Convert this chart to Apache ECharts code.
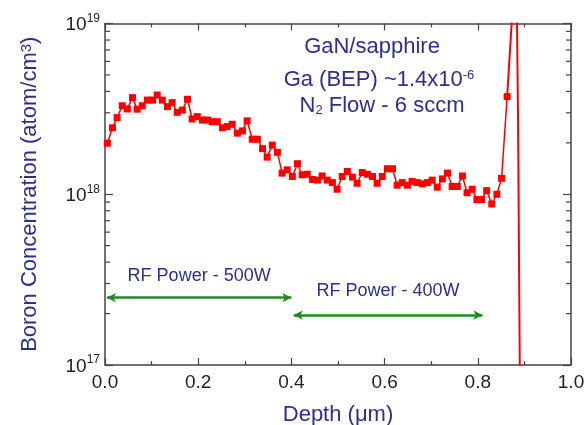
<!DOCTYPE html>
<html>
<head>
<meta charset="utf-8">
<title>Boron concentration vs depth</title>
<script src="https://cdn.jsdelivr.net/npm/echarts@6/dist/echarts.min.js"></script>
<style>
  html, body { margin: 0; padding: 0; background: #fff; }
  #chart { width: 585px; height: 425px; }
</style>
</head>
<body>
<div id="chart"></div>
<script>
// SIMS profile, depth in um
const depth = [0.005, 0.016, 0.026, 0.037, 0.048, 0.059, 0.069, 0.080, 0.091, 0.102,
  0.112, 0.123, 0.134, 0.144, 0.155, 0.166, 0.177, 0.187, 0.198, 0.209,
  0.220, 0.230, 0.241, 0.252, 0.262, 0.273, 0.284, 0.295, 0.305, 0.316,
  0.327, 0.338, 0.348, 0.359, 0.370, 0.380, 0.391, 0.402, 0.413, 0.423,
  0.434, 0.445, 0.456, 0.466, 0.477, 0.488, 0.498, 0.509, 0.520, 0.531,
  0.541, 0.552, 0.563, 0.574, 0.584, 0.595, 0.606, 0.617, 0.627, 0.638,
  0.649, 0.659, 0.670, 0.681, 0.692, 0.702, 0.713, 0.724, 0.735, 0.745,
  0.756, 0.767, 0.777, 0.788, 0.798, 0.808, 0.819, 0.830, 0.841, 0.851, 0.863]
// boron concentration, atom/cm3
const boron = [1.99e18, 2.45e18, 2.81e18, 3.30e18, 3.16e18, 3.68e18, 3.15e18, 3.30e18, 3.56e18, 3.56e18,
  3.81e18, 3.56e18, 3.26e18, 3.44e18, 3.02e18, 3.11e18, 3.60e18, 2.76e18, 2.85e18, 2.72e18,
  2.72e18, 2.66e18, 2.66e18, 2.45e18, 2.49e18, 2.57e18, 2.28e18, 2.35e18, 2.69e18, 2.10e18,
  2.10e18, 1.85e18, 1.65e18, 1.94e18, 1.76e18, 1.33e18, 1.39e18, 1.27e18, 1.51e18, 1.30e18,
  1.31e18, 1.22e18, 1.21e18, 1.28e18, 1.21e18, 1.17e18, 1.07e18, 1.27e18, 1.36e18, 1.26e18,
  1.16e18, 1.34e18, 1.31e18, 1.27e18, 1.16e18, 1.27e18, 1.41e18, 1.41e18, 1.13e18, 1.17e18,
  1.13e18, 1.19e18, 1.17e18, 1.15e18, 1.17e18, 1.21e18, 1.10e18, 1.23e18, 1.33e18, 1.11e18,
  1.11e18, 1.28e18, 1.02e18, 1.07e18, 0.93e18, 0.93e18, 1.05e18, 0.877e18, 1.00e18, 1.24e18, 3.73e18]
// interface spike (no markers, runs off the plot)
const spikeDepth = [0.863, 0.8745, 0.883, 0.8863, 0.8906]
const spikeBoron = [3.73e18, 1.22e19, 2.0e19, 2.83e18, 6.2e16]

// RF power bands
const rfLabels = ['RF Power - 500W', 'RF Power - 400W']
const rfStart = [0.004, 0.405]
const rfEnd = [0.400, 0.810]
const rfLevel = [2.48e17, 1.96e17]
const rfLabelGap = [13, 15]

// log minor ticks
const minorTicks = [2e17, 3e17, 4e17, 5e17, 6e17, 7e17, 8e17, 9e17,
  2e18, 3e18, 4e18, 5e18, 6e18, 7e18, 8e18, 9e18]

const font = '"Liberation Sans", Arial, sans-serif'
const navy = '#2b2f8e'
const axisColor = '#444'
const textColor = '#222'

const chart = echarts.init(document.getElementById('chart'))

const frameLine = { show: true, onZero: false, lineStyle: { color: axisColor, width: 1.5 } }
const xTick = { show: true, inside: true, length: 7, lineStyle: { color: axisColor, width: 1.2 } }
const xMinor = { show: true, splitNumber: 2, length: 4, lineStyle: { color: axisColor, width: 1.2 } }
const yTick = { show: true, inside: true, length: 8, lineStyle: { color: axisColor, width: 1.2 } }

const option = {
  animation: false,
  backgroundColor: '#fff',
  // fixed plot box, no v6 auto shrink
  grid: { left: 105, right: 14, top: 23.5, bottom: 60, show: false, containLabel: false, outerBoundsMode: 'none' },
  xAxis: [
    {
      type: 'value', min: 0, max: 1, interval: 0.2, position: 'bottom',
      axisLine: frameLine, axisTick: xTick, minorTick: xMinor, splitLine: { show: false },
      axisLabel: { formatter: v => v.toFixed(1), fontSize: 19, fontFamily: font, color: textColor, margin: 8 },
      name: 'Depth (\u03bcm)', nameLocation: 'middle', nameGap: 39,
      nameTextStyle: { fontSize: 22, fontFamily: font, color: navy }
    },
    {
      type: 'value', min: 0, max: 1, interval: 0.2, position: 'top',
      axisLine: frameLine, axisTick: xTick, minorTick: xMinor, splitLine: { show: false },
      axisLabel: { show: false }
    }
  ],
  yAxis: [
    {
      type: 'log', logBase: 10, min: 1e17, max: 1e19, position: 'left',
      axisLine: frameLine, axisTick: yTick, splitLine: { show: false },
      axisLabel: {
        formatter: v => '{b|10}{sup|' + Math.round(Math.log10(v)) + '}',
        margin: 5,
        rich: {
          b: { fontSize: 19, fontFamily: font, color: textColor, lineHeight: 22, verticalAlign: 'bottom' },
          sup: { fontSize: 12, fontFamily: font, color: textColor, lineHeight: 12, verticalAlign: 'top' }
        }
      },
      name: 'Boron Concentration (atom/cm{sup|3})', nameLocation: 'middle', nameRotate: 90, nameGap: 64,
      nameTextStyle: {
        fontSize: 22, fontFamily: font, color: navy,
        rich: {
          sup: { fontSize: 15, fontFamily: font, color: navy, verticalAlign: 'top', lineHeight: 14 }
        }
      }
    },
    {
      type: 'log', logBase: 10, min: 1e17, max: 1e19, position: 'right',
      axisLine: frameLine, axisTick: yTick, splitLine: { show: false },
      axisLabel: { show: false }
    }
  ],
  graphic: [
    {
      type: 'text', x: 372, y: 47,
      style: { text: 'GaN/sapphire', font: '22px ' + font, fill: navy, align: 'center', verticalAlign: 'middle' }
    },
    {
      type: 'text', x: 379, y: 80,
      style: {
        text: 'Ga (BEP) ~1.4x10{sup|-6}', font: '22px ' + font, fill: navy, align: 'center', verticalAlign: 'middle',
        rich: { sup: { font: '13px ' + font, fill: navy, verticalAlign: 'top', lineHeight: 13 } }
      }
    },
    {
      type: 'text', x: 382, y: 106,
      style: {
        text: 'N{sub|2} Flow - 6 sccm', font: '22px ' + font, fill: navy, align: 'center', verticalAlign: 'middle',
        rich: { sub: { font: '13px ' + font, fill: navy, verticalAlign: 'bottom', lineHeight: 13 } }
      }
    }
  ],
  series: [
    {
      type: 'line',
      data: depth.map((d, i) => [d, boron[i]]),
      symbol: 'rect', symbolSize: 7,
      itemStyle: { color: '#ff0000' },
      lineStyle: { color: '#ff0000', width: 1.5 },
      z: 3,
      markLine: {
        silent: true,
        symbol: ['arrow', 'arrow'],
        symbolSize: [7, 9],
        lineStyle: { color: '#1e8c1e', width: 2.5, type: 'solid' },
        label: {
          position: 'insideMiddleTop', fontSize: 18, fontFamily: font, color: navy
        },
        data: rfLabels.map((t, i) => [
          { coord: [rfStart[i], rfLevel[i]], label: { formatter: t, distance: rfLabelGap[i] } },
          { coord: [rfEnd[i], rfLevel[i]] }
        ])
      }
    },
    {
      type: 'line',
      data: spikeDepth.map((d, i) => [d, spikeBoron[i]]),
      showSymbol: false, symbol: 'none',
      lineStyle: { color: '#ff0000', width: 2 },
      z: 2
    },
    {
      // log minor ticks on left and right frame
      type: 'custom',
      silent: true,
      data: minorTicks.map(v => [0, v]),
      renderItem(params, api) {
        const v = api.value(1)
        const l = api.coord([0, v])
        const r = api.coord([1, v])
        return {
          type: 'group',
          children: [
            { type: 'line', shape: { x1: l[0], y1: l[1], x2: l[0] + 5, y2: l[1] }, style: { stroke: axisColor, lineWidth: 1.2 } },
            { type: 'line', shape: { x1: r[0] - 5, y1: r[1], x2: r[0], y2: r[1] }, style: { stroke: axisColor, lineWidth: 1.2 } }
          ]
        }
      }
    }
  ]
}

chart.setOption(option)
</script>
</body>
</html>
